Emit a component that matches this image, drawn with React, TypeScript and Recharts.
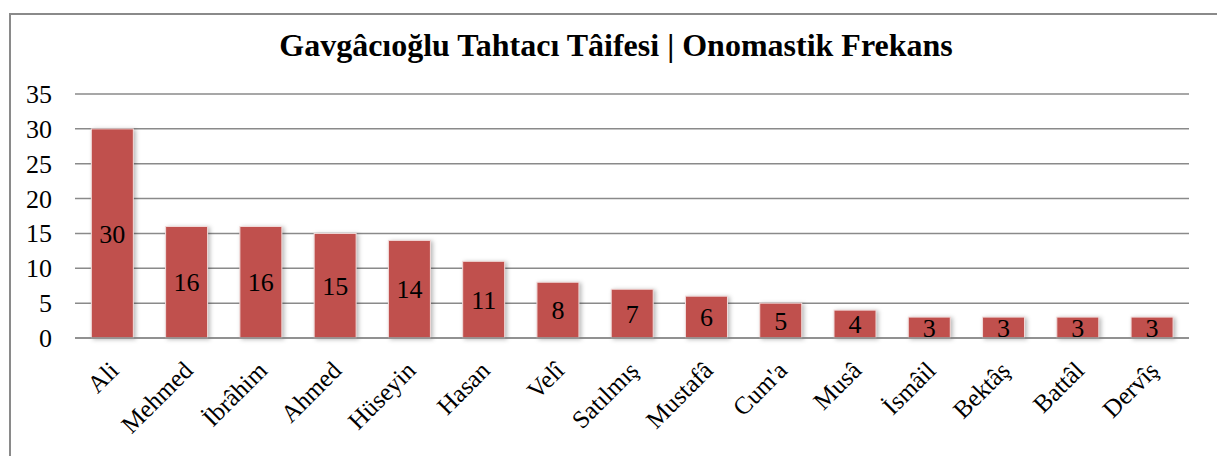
import React from 'react'
import { BarChart, Bar, XAxis, YAxis, CartesianGrid, LabelList } from 'recharts'

const names = [
  'Ali',
  'Mehmed',
  'İbrâhim',
  'Ahmed',
  'Hüseyin',
  'Hasan',
  'Velî',
  'Satılmış',
  'Mustafâ',
  "Cum'a",
  'Musâ',
  'İsmâil',
  'Bektâş',
  'Battâl',
  'Dervîş',
]
const counts = [30, 16, 16, 15, 14, 11, 8, 7, 6, 5, 4, 3, 3, 3, 3]
const yTicks = [0, 5, 10, 15, 20, 25, 30, 35]

const data = names.map((name, i) => ({ name, value: counts[i] }))

const FONT = '"Liberation Serif", "Times New Roman", serif'

const AngledTick = (props: any) => {
  const { x, y, payload } = props
  return (
    <g transform={`translate(${x + 8},${y + 26})`}>
      <text
        textAnchor="end"
        transform="rotate(-45)"
        style={{ fontFamily: FONT, fontSize: 25 }}
        fill="#000"
      >
        {payload.value}
      </text>
    </g>
  )
}

const LeftTick = (props: any) => {
  const { x, y, payload } = props
  return (
    <text
      x={x}
      y={y}
      dy={9}
      textAnchor="end"
      style={{ fontFamily: FONT, fontSize: 26 }}
      fill="#000"
    >
      {payload.value}
    </text>
  )
}

// bar with thin light edge and a soft shadow
const ShadowBar = (props: any) => {
  const { x, y, width, height, fill } = props
  if (!height || height <= 0) return null
  return (
    <rect
      x={x}
      y={y}
      width={width}
      height={height}
      fill={fill}
      stroke="#f2dcdb"
      strokeWidth={1}
      style={{ filter: 'drop-shadow(2px 1px 2px rgba(0,0,0,0.28))' }}
    />
  )
}

export default function App() {
  return (
    <div
      style={{
        position: 'absolute',
        left: 0,
        top: 0,
        width: 1217,
        height: 456,
        background: '#fff',
        overflow: 'hidden',
        fontFamily: FONT,
      }}
    >
      <div
        style={{
          position: 'absolute',
          left: 9,
          top: 13,
          width: 1212,
          height: 450,
          border: '2px solid #8a8a8a',
          boxSizing: 'border-box',
        }}
      />
      <div
        style={{
          position: 'absolute',
          left: 0,
          top: 27,
          width: 1232,
          textAlign: 'center',
          fontFamily: FONT,
          fontWeight: 'bold',
          fontSize: 32,
          color: '#000',
        }}
      >
        Gavgâcıoğlu Tahtacı Tâifesi | Onomastik Frekans
      </div>
      <div style={{ position: 'absolute', left: 0, top: 0 }}>
        <BarChart
          width={1217}
          height={456}
          data={data}
          margin={{ top: 94, right: 28, left: 0, bottom: 0 }}
          barCategoryGap="22%"
          style={{ fontFamily: FONT }}
        >
          <CartesianGrid vertical={false} stroke="#8a8a8a" strokeWidth={1.5} />
          <XAxis
            dataKey="name"
            interval={0}
            height={118}
            tickLine={false}
            axisLine={{ stroke: '#8a8a8a', strokeWidth: 1.5 }}
            tick={<AngledTick />}
          />
          <YAxis
            width={75}
            domain={[0, 35]}
            ticks={yTicks}
            axisLine={false}
            tickLine={false}
            tickSize={0}
            tickMargin={23}
            tick={<LeftTick />}
          />
          <Bar dataKey="value" fill="#C0504D" shape={<ShadowBar />} isAnimationActive={false}>
            <LabelList
              dataKey="value"
              position="center"
              fill="#000"
              style={{ fontFamily: FONT, fontSize: 26 }}
            />
          </Bar>
        </BarChart>
      </div>
    </div>
  )
}
